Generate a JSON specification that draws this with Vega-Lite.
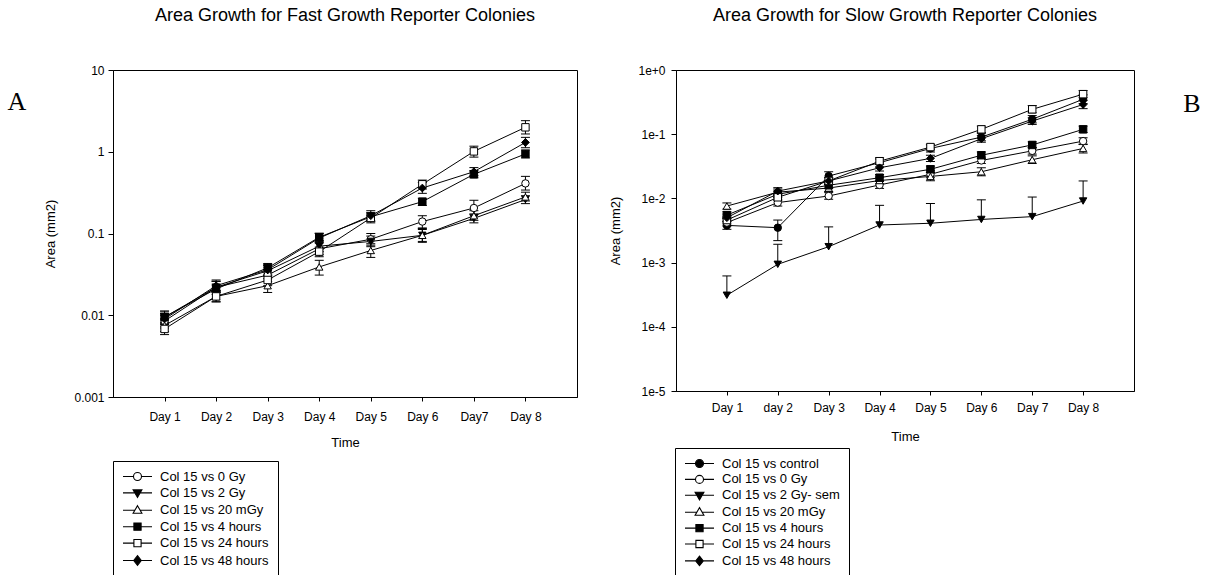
{
  "$schema": "https://vega.github.io/schema/vega-lite/v6.json",
  "padding": {"left": 0, "top": 6, "right": 0, "bottom": 0},
  "background": "white",
  "config": {
    "font": "Liberation Sans",
    "view": {"stroke": "black", "strokeWidth": 1},
    "axis": {"grid": false, "domainColor": "black", "tickColor": "black", "labelColor": "black", "titleColor": "black", "labelFontSize": 12, "titleFontSize": 13, "titleFontWeight": "normal", "labelFont": "Liberation Sans", "titleFont": "Liberation Sans"},
    "title": {"font": "Liberation Sans", "fontSize": 18, "fontWeight": "normal", "color": "black", "anchor": "middle"},
    "legend": {"orient": "none", "direction": "vertical", "labelFont": "Liberation Sans", "labelFontSize": 13, "labelColor": "black", "strokeColor": "black", "fillColor": "white", "padding": 9, "symbolSize": 64, "symbolOffset": 9, "labelOffset": 16, "symbolStrokeWidth": 1.1, "symbolOpacity": 1, "labelLimit": 400}
  },
  "datasets": {
    "fast": [
      {"series": "Col 15 vs 0 Gy", "day": "Day 1", "d": 1, "v": 0.0085, "lo": 0.0072, "hi": 0.0100},
      {"series": "Col 15 vs 0 Gy", "day": "Day 2", "d": 2, "v": 0.022, "lo": 0.019, "hi": 0.026},
      {"series": "Col 15 vs 0 Gy", "day": "Day 3", "d": 3, "v": 0.031, "lo": 0.026, "hi": 0.036},
      {"series": "Col 15 vs 0 Gy", "day": "Day 4", "d": 4, "v": 0.065, "lo": 0.055, "hi": 0.077},
      {"series": "Col 15 vs 0 Gy", "day": "Day 5", "d": 5, "v": 0.085, "lo": 0.072, "hi": 0.100},
      {"series": "Col 15 vs 0 Gy", "day": "Day 6", "d": 6, "v": 0.14, "lo": 0.117, "hi": 0.165},
      {"series": "Col 15 vs 0 Gy", "day": "Day7", "d": 7, "v": 0.205, "lo": 0.172, "hi": 0.255},
      {"series": "Col 15 vs 0 Gy", "day": "Day 8", "d": 8, "v": 0.41, "lo": 0.34, "hi": 0.50},
      {"series": "Col 15 vs 2 Gy", "day": "Day 1", "d": 1, "v": 0.0095, "lo": 0.0080, "hi": 0.0113},
      {"series": "Col 15 vs 2 Gy", "day": "Day 2", "d": 2, "v": 0.022, "lo": 0.019, "hi": 0.026},
      {"series": "Col 15 vs 2 Gy", "day": "Day 3", "d": 3, "v": 0.035, "lo": 0.030, "hi": 0.041},
      {"series": "Col 15 vs 2 Gy", "day": "Day 4", "d": 4, "v": 0.070, "lo": 0.060, "hi": 0.082},
      {"series": "Col 15 vs 2 Gy", "day": "Day 5", "d": 5, "v": 0.080, "lo": 0.069, "hi": 0.093},
      {"series": "Col 15 vs 2 Gy", "day": "Day 6", "d": 6, "v": 0.095, "lo": 0.080, "hi": 0.112},
      {"series": "Col 15 vs 2 Gy", "day": "Day7", "d": 7, "v": 0.153, "lo": 0.135, "hi": 0.173},
      {"series": "Col 15 vs 2 Gy", "day": "Day 8", "d": 8, "v": 0.26, "lo": 0.232, "hi": 0.29},
      {"series": "Col 15 vs 20 mGy", "day": "Day 1", "d": 1, "v": 0.0075, "lo": 0.0063, "hi": 0.0090},
      {"series": "Col 15 vs 20 mGy", "day": "Day 2", "d": 2, "v": 0.017, "lo": 0.0145, "hi": 0.020},
      {"series": "Col 15 vs 20 mGy", "day": "Day 3", "d": 3, "v": 0.023, "lo": 0.019, "hi": 0.028},
      {"series": "Col 15 vs 20 mGy", "day": "Day 4", "d": 4, "v": 0.039, "lo": 0.031, "hi": 0.047},
      {"series": "Col 15 vs 20 mGy", "day": "Day 5", "d": 5, "v": 0.062, "lo": 0.051, "hi": 0.075},
      {"series": "Col 15 vs 20 mGy", "day": "Day 6", "d": 6, "v": 0.095, "lo": 0.078, "hi": 0.115},
      {"series": "Col 15 vs 20 mGy", "day": "Day7", "d": 7, "v": 0.165, "lo": 0.145, "hi": 0.19},
      {"series": "Col 15 vs 20 mGy", "day": "Day 8", "d": 8, "v": 0.28, "lo": 0.25, "hi": 0.32},
      {"series": "Col 15 vs 4 hours", "day": "Day 1", "d": 1, "v": 0.0095, "lo": 0.0082, "hi": 0.011},
      {"series": "Col 15 vs 4 hours", "day": "Day 2", "d": 2, "v": 0.021, "lo": 0.018, "hi": 0.024},
      {"series": "Col 15 vs 4 hours", "day": "Day 3", "d": 3, "v": 0.038, "lo": 0.033, "hi": 0.043},
      {"series": "Col 15 vs 4 hours", "day": "Day 4", "d": 4, "v": 0.090, "lo": 0.080, "hi": 0.101},
      {"series": "Col 15 vs 4 hours", "day": "Day 5", "d": 5, "v": 0.16, "lo": 0.14, "hi": 0.18},
      {"series": "Col 15 vs 4 hours", "day": "Day 6", "d": 6, "v": 0.245, "lo": 0.22, "hi": 0.27},
      {"series": "Col 15 vs 4 hours", "day": "Day7", "d": 7, "v": 0.53, "lo": 0.48, "hi": 0.59},
      {"series": "Col 15 vs 4 hours", "day": "Day 8", "d": 8, "v": 0.94, "lo": 0.84, "hi": 1.05},
      {"series": "Col 15 vs 24 hours", "day": "Day 1", "d": 1, "v": 0.0068, "lo": 0.0058, "hi": 0.0080},
      {"series": "Col 15 vs 24 hours", "day": "Day 2", "d": 2, "v": 0.017, "lo": 0.0148, "hi": 0.0195},
      {"series": "Col 15 vs 24 hours", "day": "Day 3", "d": 3, "v": 0.027, "lo": 0.023, "hi": 0.031},
      {"series": "Col 15 vs 24 hours", "day": "Day 4", "d": 4, "v": 0.060, "lo": 0.052, "hi": 0.068},
      {"series": "Col 15 vs 24 hours", "day": "Day 5", "d": 5, "v": 0.155, "lo": 0.135, "hi": 0.178},
      {"series": "Col 15 vs 24 hours", "day": "Day 6", "d": 6, "v": 0.40, "lo": 0.35, "hi": 0.45},
      {"series": "Col 15 vs 24 hours", "day": "Day7", "d": 7, "v": 1.01, "lo": 0.86, "hi": 1.17},
      {"series": "Col 15 vs 24 hours", "day": "Day 8", "d": 8, "v": 1.99, "lo": 1.65, "hi": 2.40},
      {"series": "Col 15 vs 48 hours", "day": "Day 1", "d": 1, "v": 0.0090, "lo": 0.0077, "hi": 0.0105},
      {"series": "Col 15 vs 48 hours", "day": "Day 2", "d": 2, "v": 0.023, "lo": 0.020, "hi": 0.027},
      {"series": "Col 15 vs 48 hours", "day": "Day 3", "d": 3, "v": 0.036, "lo": 0.031, "hi": 0.041},
      {"series": "Col 15 vs 48 hours", "day": "Day 4", "d": 4, "v": 0.088, "lo": 0.077, "hi": 0.100},
      {"series": "Col 15 vs 48 hours", "day": "Day 5", "d": 5, "v": 0.165, "lo": 0.143, "hi": 0.19},
      {"series": "Col 15 vs 48 hours", "day": "Day 6", "d": 6, "v": 0.36, "lo": 0.31, "hi": 0.42},
      {"series": "Col 15 vs 48 hours", "day": "Day7", "d": 7, "v": 0.57, "lo": 0.51, "hi": 0.64},
      {"series": "Col 15 vs 48 hours", "day": "Day 8", "d": 8, "v": 1.30, "lo": 1.12, "hi": 1.50}
    ],
    "slow": [
      {"series": "Col 15 vs control", "day": "Day 1", "d": 1, "v": 0.0038, "lo": 0.0033, "hi": 0.0044},
      {"series": "Col 15 vs control", "day": "day 2", "d": 2, "v": 0.0035, "lo": 0.0022, "hi": 0.0046},
      {"series": "Col 15 vs control", "day": "Day 3", "d": 3, "v": 0.0223, "lo": 0.019, "hi": 0.026},
      {"series": "Col 15 vs control", "day": "Day 4", "d": 4, "v": 0.036, "lo": 0.031, "hi": 0.041},
      {"series": "Col 15 vs control", "day": "Day 5", "d": 5, "v": 0.060, "lo": 0.053, "hi": 0.068},
      {"series": "Col 15 vs control", "day": "Day 6", "d": 6, "v": 0.090, "lo": 0.079, "hi": 0.103},
      {"series": "Col 15 vs control", "day": "Day 7", "d": 7, "v": 0.171, "lo": 0.150, "hi": 0.195},
      {"series": "Col 15 vs control", "day": "Day 8", "d": 8, "v": 0.35, "lo": 0.30, "hi": 0.41},
      {"series": "Col 15 vs 0 Gy", "day": "Day 1", "d": 1, "v": 0.0042, "lo": 0.0037, "hi": 0.0048},
      {"series": "Col 15 vs 0 Gy", "day": "day 2", "d": 2, "v": 0.0086, "lo": 0.0076, "hi": 0.0097},
      {"series": "Col 15 vs 0 Gy", "day": "Day 3", "d": 3, "v": 0.0109, "lo": 0.0097, "hi": 0.0123},
      {"series": "Col 15 vs 0 Gy", "day": "Day 4", "d": 4, "v": 0.0162, "lo": 0.0143, "hi": 0.0183},
      {"series": "Col 15 vs 0 Gy", "day": "Day 5", "d": 5, "v": 0.0237, "lo": 0.021, "hi": 0.027},
      {"series": "Col 15 vs 0 Gy", "day": "Day 6", "d": 6, "v": 0.039, "lo": 0.035, "hi": 0.044},
      {"series": "Col 15 vs 0 Gy", "day": "Day 7", "d": 7, "v": 0.055, "lo": 0.049, "hi": 0.062},
      {"series": "Col 15 vs 0 Gy", "day": "Day 8", "d": 8, "v": 0.078, "lo": 0.069, "hi": 0.088},
      {"series": "Col 15 vs 2 Gy- sem", "day": "Day 1", "d": 1, "v": 0.00031, "lo": 0.00031, "hi": 0.00062},
      {"series": "Col 15 vs 2 Gy- sem", "day": "day 2", "d": 2, "v": 0.00094, "lo": 0.00094, "hi": 0.00193},
      {"series": "Col 15 vs 2 Gy- sem", "day": "Day 3", "d": 3, "v": 0.00177, "lo": 0.00177, "hi": 0.0036},
      {"series": "Col 15 vs 2 Gy- sem", "day": "Day 4", "d": 4, "v": 0.00385, "lo": 0.00385, "hi": 0.0078},
      {"series": "Col 15 vs 2 Gy- sem", "day": "Day 5", "d": 5, "v": 0.0041, "lo": 0.0041, "hi": 0.0083},
      {"series": "Col 15 vs 2 Gy- sem", "day": "Day 6", "d": 6, "v": 0.0047, "lo": 0.0047, "hi": 0.0095},
      {"series": "Col 15 vs 2 Gy- sem", "day": "Day 7", "d": 7, "v": 0.0052, "lo": 0.0052, "hi": 0.0105},
      {"series": "Col 15 vs 2 Gy- sem", "day": "Day 8", "d": 8, "v": 0.0091, "lo": 0.0091, "hi": 0.0187},
      {"series": "Col 15 vs 20 mGy", "day": "Day 1", "d": 1, "v": 0.0076, "lo": 0.0068, "hi": 0.0085},
      {"series": "Col 15 vs 20 mGy", "day": "day 2", "d": 2, "v": 0.0125, "lo": 0.011, "hi": 0.014},
      {"series": "Col 15 vs 20 mGy", "day": "Day 3", "d": 3, "v": 0.0145, "lo": 0.0128, "hi": 0.0164},
      {"series": "Col 15 vs 20 mGy", "day": "Day 4", "d": 4, "v": 0.019, "lo": 0.0168, "hi": 0.0215},
      {"series": "Col 15 vs 20 mGy", "day": "Day 5", "d": 5, "v": 0.022, "lo": 0.0188, "hi": 0.0255},
      {"series": "Col 15 vs 20 mGy", "day": "Day 6", "d": 6, "v": 0.026, "lo": 0.0225, "hi": 0.030},
      {"series": "Col 15 vs 20 mGy", "day": "Day 7", "d": 7, "v": 0.040, "lo": 0.035, "hi": 0.046},
      {"series": "Col 15 vs 20 mGy", "day": "Day 8", "d": 8, "v": 0.060, "lo": 0.051, "hi": 0.070},
      {"series": "Col 15 vs 4 hours", "day": "Day 1", "d": 1, "v": 0.0055, "lo": 0.0049, "hi": 0.0062},
      {"series": "Col 15 vs 4 hours", "day": "day 2", "d": 2, "v": 0.0116, "lo": 0.0103, "hi": 0.013},
      {"series": "Col 15 vs 4 hours", "day": "Day 3", "d": 3, "v": 0.016, "lo": 0.0142, "hi": 0.018},
      {"series": "Col 15 vs 4 hours", "day": "Day 4", "d": 4, "v": 0.021, "lo": 0.0187, "hi": 0.0236},
      {"series": "Col 15 vs 4 hours", "day": "Day 5", "d": 5, "v": 0.0284, "lo": 0.0253, "hi": 0.032},
      {"series": "Col 15 vs 4 hours", "day": "Day 6", "d": 6, "v": 0.047, "lo": 0.042, "hi": 0.053},
      {"series": "Col 15 vs 4 hours", "day": "Day 7", "d": 7, "v": 0.068, "lo": 0.061, "hi": 0.076},
      {"series": "Col 15 vs 4 hours", "day": "Day 8", "d": 8, "v": 0.119, "lo": 0.106, "hi": 0.134},
      {"series": "Col 15 vs 24 hours", "day": "Day 1", "d": 1, "v": 0.0046, "lo": 0.0040, "hi": 0.0053},
      {"series": "Col 15 vs 24 hours", "day": "day 2", "d": 2, "v": 0.0104, "lo": 0.0092, "hi": 0.0118},
      {"series": "Col 15 vs 24 hours", "day": "Day 3", "d": 3, "v": 0.0187, "lo": 0.0166, "hi": 0.021},
      {"series": "Col 15 vs 24 hours", "day": "Day 4", "d": 4, "v": 0.038, "lo": 0.034, "hi": 0.043},
      {"series": "Col 15 vs 24 hours", "day": "Day 5", "d": 5, "v": 0.063, "lo": 0.057, "hi": 0.070},
      {"series": "Col 15 vs 24 hours", "day": "Day 6", "d": 6, "v": 0.119, "lo": 0.106, "hi": 0.134},
      {"series": "Col 15 vs 24 hours", "day": "Day 7", "d": 7, "v": 0.244, "lo": 0.215, "hi": 0.28},
      {"series": "Col 15 vs 24 hours", "day": "Day 8", "d": 8, "v": 0.42, "lo": 0.37, "hi": 0.48},
      {"series": "Col 15 vs 48 hours", "day": "Day 1", "d": 1, "v": 0.0050, "lo": 0.0044, "hi": 0.0057},
      {"series": "Col 15 vs 48 hours", "day": "day 2", "d": 2, "v": 0.013, "lo": 0.0115, "hi": 0.0147},
      {"series": "Col 15 vs 48 hours", "day": "Day 3", "d": 3, "v": 0.0187, "lo": 0.0166, "hi": 0.021},
      {"series": "Col 15 vs 48 hours", "day": "Day 4", "d": 4, "v": 0.030, "lo": 0.0267, "hi": 0.0337},
      {"series": "Col 15 vs 48 hours", "day": "Day 5", "d": 5, "v": 0.042, "lo": 0.0374, "hi": 0.047},
      {"series": "Col 15 vs 48 hours", "day": "Day 6", "d": 6, "v": 0.085, "lo": 0.075, "hi": 0.096},
      {"series": "Col 15 vs 48 hours", "day": "Day 7", "d": 7, "v": 0.16, "lo": 0.142, "hi": 0.18},
      {"series": "Col 15 vs 48 hours", "day": "Day 8", "d": 8, "v": 0.29, "lo": 0.25, "hi": 0.335}
    ],
    "labelA": [{"label": "A"}],
    "labelB": [{"label": "B"}]
  },
  "resolve": {"scale": {"fill": "independent", "shape": "independent"}, "legend": {"fill": "independent", "shape": "independent"}},
  "spacing": 31,
  "hconcat": [
    {
      "spacing": 10,
      "resolve": {"scale": {"fill": "independent", "shape": "independent"}, "legend": {"fill": "independent", "shape": "independent"}},
      "hconcat": [
        {
          "width": 34, "height": 64,
          "view": {"stroke": null},
          "data": {"name": "labelA"},
          "mark": {"type": "text", "font": "Liberation Serif", "fontSize": 26, "color": "black"},
          "encoding": {"text": {"field": "label", "type": "nominal"}}
        },
        {
          "title": {"text": "Area Growth for Fast Growth Reporter Colonies", "offset": 39},
          "width": 464, "height": 327,
          "data": {"name": "fast"},
          "encoding": {
            "x": {"field": "day", "type": "nominal", "scale": {"type": "point", "padding": 1, "domain": ["Day 1", "Day 2", "Day 3", "Day 4", "Day 5", "Day 6", "Day7", "Day 8"]}, "axis": {"title": "Time", "labelAngle": 0, "tickSize": 4, "labelPadding": 10, "titlePadding": 14}}
          },
          "layer": [
            {
              "mark": {"type": "rule", "color": "black", "strokeWidth": 1},
              "encoding": {
                "y": {"field": "lo", "type": "quantitative", "scale": {"type": "log", "domain": [0.001, 10], "nice": false}, "axis": {"title": "Area (mm2)", "values": [0.001, 0.01, 0.1, 1, 10], "format": "~g", "tickSize": 5, "labelPadding": 4, "titlePadding": 16}},
                "y2": {"field": "hi"}
              }
            },
            {
              "mark": {"type": "tick", "orient": "horizontal", "color": "black", "thickness": 1, "size": 9, "opacity": 1},
              "encoding": {"y": {"field": "hi", "type": "quantitative"}}
            },
            {
              "transform": [{"filter": "datum.lo < datum.v"}],
              "mark": {"type": "tick", "orient": "horizontal", "color": "black", "thickness": 1, "size": 9, "opacity": 1},
              "encoding": {"y": {"field": "lo", "type": "quantitative"}}
            },
            {
              "mark": {"type": "line", "color": "black", "strokeWidth": 1},
              "encoding": {"y": {"field": "v", "type": "quantitative"}, "detail": {"field": "series", "type": "nominal"}, "order": {"field": "d", "type": "quantitative"}}
            },
            {
              "encoding": {
                "y": {"field": "v", "type": "quantitative"},
                "fill": {"field": "series", "type": "nominal", "scale": {"domain": ["Col 15 vs 0 Gy", "Col 15 vs 2 Gy", "Col 15 vs 20 mGy", "Col 15 vs 4 hours", "Col 15 vs 24 hours", "Col 15 vs 48 hours"], "range": ["white", "black", "white", "black", "white", "black"]},
                  "legend": {"title": null, "legendX": 0, "legendY": 391, "rowPadding": 2.4}
                }
              },
              "layer": [
                {"transform": [{"filter": {"field": "series", "oneOf": ["Col 15 vs 0 Gy"]}}], "mark": {"type": "point", "shape": "circle", "filled": true, "stroke": "black", "strokeWidth": 1, "size": 55, "opacity": 1}},
                {"transform": [{"filter": {"field": "series", "oneOf": ["Col 15 vs 2 Gy"]}}], "mark": {"type": "point", "shape": "triangle-down", "filled": true, "stroke": "black", "strokeWidth": 1, "size": 55, "opacity": 1}},
                {"transform": [{"filter": {"field": "series", "oneOf": ["Col 15 vs 20 mGy"]}}], "mark": {"type": "point", "shape": "triangle-up", "filled": true, "stroke": "black", "strokeWidth": 1, "size": 55, "opacity": 1}},
                {"transform": [{"filter": {"field": "series", "oneOf": ["Col 15 vs 4 hours", "Col 15 vs 24 hours"]}}], "mark": {"type": "point", "shape": "square", "filled": true, "stroke": "black", "strokeWidth": 1, "size": 55, "opacity": 1}},
                {"transform": [{"filter": {"field": "series", "oneOf": ["Col 15 vs 48 hours"]}}], "mark": {"type": "point", "shape": "diamond", "filled": true, "stroke": "black", "strokeWidth": 1, "size": 60, "opacity": 1}},
                {
                  "transform": [{"filter": "false"}],
                  "mark": {"type": "point", "filled": true, "stroke": "black", "strokeWidth": 1, "size": 64, "opacity": 1},
                  "encoding": {
                    "shape": {"field": "series", "type": "nominal",
                      "scale": {"domain": ["Col 15 vs 0 Gy", "Col 15 vs 2 Gy", "Col 15 vs 20 mGy", "Col 15 vs 4 hours", "Col 15 vs 24 hours", "Col 15 vs 48 hours"],
                        "range": ["M-3.625,0H-1M1,0H3.625M1,0A1,1,0,1,1,-1,0A1,1,0,1,1,1,0Z", "M-3.625,0H-0.6M0.6,0H3.625M-1.1,-0.75L1.1,-0.75L0,1.15Z", "M-3.625,0H-0.6M0.6,0H3.625M0,-1.15L1.1,0.75L-1.1,0.75Z", "M-3.625,0H-0.9M0.9,0H3.625M-0.9,-0.9H0.9V0.9H-0.9Z", "M-3.625,0H-0.9M0.9,0H3.625M-0.9,-0.9H0.9V0.9H-0.9Z", "M-3.625,0H-0.95M0.95,0H3.625M0,-1.2L0.95,0L0,1.2L-0.95,0Z"]},
                      "legend": {"title": null, "legendX": 0, "legendY": 391, "rowPadding": 2.4}
                    }
                  }
                }
              ]
            }
          ]
        }
      ]
    },
    {
      "spacing": 40,
      "resolve": {"scale": {"fill": "independent", "shape": "independent"}, "legend": {"fill": "independent", "shape": "independent"}},
      "hconcat": [
        {
          "title": {"text": "Area Growth for Slow Growth Reporter Colonies", "offset": 39},
          "width": 458, "height": 321,
          "data": {"name": "slow"},
          "encoding": {
            "x": {"field": "day", "type": "nominal", "scale": {"type": "point", "padding": 1, "domain": ["Day 1", "day 2", "Day 3", "Day 4", "Day 5", "Day 6", "Day 7", "Day 8"]}, "axis": {"title": "Time", "labelAngle": 0, "tickSize": 4, "labelPadding": 7, "titlePadding": 17}}
          },
          "layer": [
            {
              "mark": {"type": "rule", "color": "black", "strokeWidth": 1},
              "encoding": {
                "y": {"field": "lo", "type": "quantitative", "scale": {"type": "log", "domain": [0.00001, 1], "nice": false}, "axis": {"title": "Area (mm2)", "values": [0.00001, 0.0001, 0.001, 0.01, 0.1, 1], "format": ".0e", "tickSize": 5, "labelPadding": 6, "titlePadding": 15}},
                "y2": {"field": "hi"}
              }
            },
            {
              "mark": {"type": "tick", "orient": "horizontal", "color": "black", "thickness": 1, "size": 9, "opacity": 1},
              "encoding": {"y": {"field": "hi", "type": "quantitative"}}
            },
            {
              "transform": [{"filter": "datum.lo < datum.v"}],
              "mark": {"type": "tick", "orient": "horizontal", "color": "black", "thickness": 1, "size": 9, "opacity": 1},
              "encoding": {"y": {"field": "lo", "type": "quantitative"}}
            },
            {
              "mark": {"type": "line", "color": "black", "strokeWidth": 1},
              "encoding": {"y": {"field": "v", "type": "quantitative"}, "detail": {"field": "series", "type": "nominal"}, "order": {"field": "d", "type": "quantitative"}}
            },
            {
              "encoding": {
                "y": {"field": "v", "type": "quantitative"},
                "fill": {"field": "series", "type": "nominal", "scale": {"domain": ["Col 15 vs control", "Col 15 vs 0 Gy", "Col 15 vs 2 Gy- sem", "Col 15 vs 20 mGy", "Col 15 vs 4 hours", "Col 15 vs 24 hours", "Col 15 vs 48 hours"], "range": ["black", "white", "black", "white", "black", "white", "black"]},
                  "legend": {"title": null, "legendX": -1, "legendY": 378, "rowPadding": 1.9}
                }
              },
              "layer": [
                {"transform": [{"filter": {"field": "series", "oneOf": ["Col 15 vs control", "Col 15 vs 0 Gy"]}}], "mark": {"type": "point", "shape": "circle", "filled": true, "stroke": "black", "strokeWidth": 1, "size": 55, "opacity": 1}},
                {"transform": [{"filter": {"field": "series", "oneOf": ["Col 15 vs 2 Gy- sem"]}}], "mark": {"type": "point", "shape": "triangle-down", "filled": true, "stroke": "black", "strokeWidth": 1, "size": 55, "opacity": 1}},
                {"transform": [{"filter": {"field": "series", "oneOf": ["Col 15 vs 20 mGy"]}}], "mark": {"type": "point", "shape": "triangle-up", "filled": true, "stroke": "black", "strokeWidth": 1, "size": 55, "opacity": 1}},
                {"transform": [{"filter": {"field": "series", "oneOf": ["Col 15 vs 4 hours", "Col 15 vs 24 hours"]}}], "mark": {"type": "point", "shape": "square", "filled": true, "stroke": "black", "strokeWidth": 1, "size": 55, "opacity": 1}},
                {"transform": [{"filter": {"field": "series", "oneOf": ["Col 15 vs 48 hours"]}}], "mark": {"type": "point", "shape": "diamond", "filled": true, "stroke": "black", "strokeWidth": 1, "size": 60, "opacity": 1}},
                {
                  "transform": [{"filter": "false"}],
                  "mark": {"type": "point", "filled": true, "stroke": "black", "strokeWidth": 1, "size": 64, "opacity": 1},
                  "encoding": {
                    "shape": {"field": "series", "type": "nominal",
                      "scale": {"domain": ["Col 15 vs control", "Col 15 vs 0 Gy", "Col 15 vs 2 Gy- sem", "Col 15 vs 20 mGy", "Col 15 vs 4 hours", "Col 15 vs 24 hours", "Col 15 vs 48 hours"],
                        "range": ["M-3.625,0H-1M1,0H3.625M1,0A1,1,0,1,1,-1,0A1,1,0,1,1,1,0Z", "M-3.625,0H-1M1,0H3.625M1,0A1,1,0,1,1,-1,0A1,1,0,1,1,1,0Z", "M-3.625,0H-0.6M0.6,0H3.625M-1.1,-0.75L1.1,-0.75L0,1.15Z", "M-3.625,0H-0.6M0.6,0H3.625M0,-1.15L1.1,0.75L-1.1,0.75Z", "M-3.625,0H-0.9M0.9,0H3.625M-0.9,-0.9H0.9V0.9H-0.9Z", "M-3.625,0H-0.9M0.9,0H3.625M-0.9,-0.9H0.9V0.9H-0.9Z", "M-3.625,0H-0.95M0.95,0H3.625M0,-1.2L0.95,0L0,1.2L-0.95,0Z"]},
                      "legend": {"title": null, "legendX": -1, "legendY": 378, "rowPadding": 1.9}
                    }
                  }
                }
              ]
            }
          ]
        },
        {
          "width": 34, "height": 68,
          "view": {"stroke": null},
          "data": {"name": "labelB"},
          "mark": {"type": "text", "font": "Liberation Serif", "fontSize": 26, "color": "black"},
          "encoding": {"text": {"field": "label", "type": "nominal"}}
        }
      ]
    }
  ]
}
